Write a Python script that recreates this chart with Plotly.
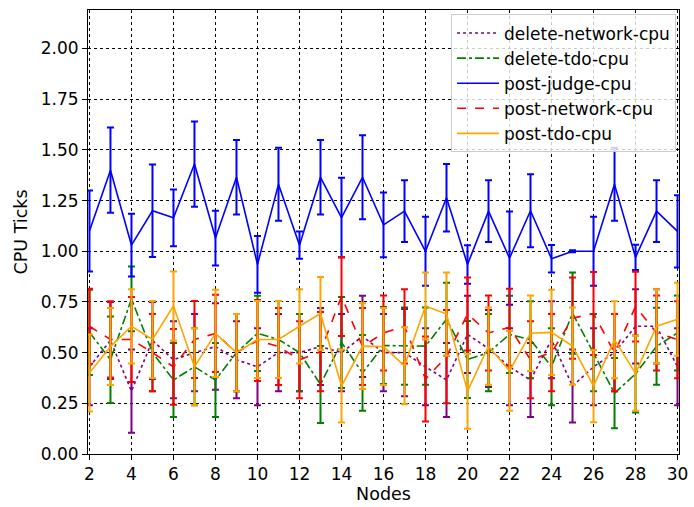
import plotly.graph_objects as go

# Cluster size (number of nodes) on the x axis
nodes = list(range(2, 31))

# Mean CPU ticks and the error (+/-) for each workload
delete_network_mean = [0.43, 0.56, 0.31, 0.56, 0.465, 0.50, 0.53, 0.465, 0.43, 0.50,
                       0.50, 0.53, 0.50, 0.58, 0.50, 0.50, 0.43, 0.365, 0.59, 0.52,
                       0.43, 0.365, 0.564, 0.335, 0.43, 0.50, 0.63, 0.63, 0.43]
delete_network_err = [0.19, 0.19, 0.205, 0.19, 0.19, 0.19, 0.213, 0.19, 0.19, 0.19,
                      0.19, 0.19, 0.19, 0.20, 0.19, 0.215, 0.19, 0.183, 0.19, 0.19,
                      0.19, 0.183, 0.19, 0.18, 0.19, 0.19, 0.183, 0.183, 0.19]

delete_tdo_mean = [0.60, 0.465, 0.765, 0.50, 0.365, 0.43, 0.365, 0.50, 0.595, 0.565,
                   0.50, 0.343, 0.55, 0.40, 0.535, 0.532, 0.532, 0.665, 0.466, 0.50,
                   0.59, 0.564, 0.43, 0.695, 0.50, 0.30, 0.395, 0.531, 0.597]
delete_tdo_err = [0.21, 0.213, 0.16, 0.19, 0.183, 0.19, 0.183, 0.19, 0.185, 0.19,
                  0.19, 0.19, 0.225, 0.187, 0.19, 0.19, 0.19, 0.18, 0.19, 0.19,
                  0.19, 0.19, 0.19, 0.20, 0.19, 0.173, 0.19, 0.19, 0.185]

post_judge_mean = [1.10, 1.40, 1.03, 1.20, 1.165, 1.43, 1.065, 1.365, 0.935, 1.33,
                   1.03, 1.365, 1.166, 1.365, 1.13, 1.198, 1.00, 1.264, 0.935, 1.198,
                   0.966, 1.20, 0.963, 1.00, 1.00, 1.33, 0.97, 1.198, 1.098]
post_judge_err = [0.20, 0.21, 0.155, 0.228, 0.14, 0.21, 0.135, 0.184, 0.14, 0.18,
                  0.067, 0.184, 0.197, 0.207, 0.16, 0.152, 0.17, 0.167, 0.095, 0.152,
                  0.23, 0.18, 0.068, 0.005, 0.17, 0.18, 0.062, 0.152, 0.178]

post_network_mean = [0.63, 0.565, 0.565, 0.50, 0.43, 0.565, 0.595, 0.50, 0.56, 0.53,
                     0.465, 0.505, 0.777, 0.53, 0.597, 0.63, 0.37, 0.48, 0.69, 0.597,
                     0.625, 0.465, 0.50, 0.67, 0.693, 0.50, 0.727, 0.597, 0.564]
post_network_err = [0.185, 0.188, 0.21, 0.19, 0.187, 0.19, 0.19, 0.19, 0.20, 0.19,
                    0.19, 0.195, 0.195, 0.19, 0.185, 0.183, 0.21, 0.23, 0.18, 0.185,
                    0.19, 0.19, 0.19, 0.20, 0.205, 0.19, 0.172, 0.185, 0.19]

post_tdo_mean = [0.40, 0.53, 0.63, 0.565, 0.73, 0.43, 0.595, 0.50, 0.565, 0.565,
                 0.63, 0.693, 0.335, 0.532, 0.53, 0.435, 0.73, 0.69, 0.31, 0.532,
                 0.41, 0.596, 0.60, 0.532, 0.335, 0.564, 0.398, 0.63, 0.665]
post_tdo_err = [0.19, 0.19, 0.183, 0.19, 0.17, 0.19, 0.215, 0.19, 0.19, 0.19,
                0.183, 0.18, 0.18, 0.212, 0.19, 0.19, 0.165, 0.205, 0.185, 0.19,
                0.197, 0.186, 0.21, 0.19, 0.178, 0.19, 0.185, 0.183, 0.18]

series = [
    ("delete-network-cpu", delete_network_mean, delete_network_err, "purple", "dot"),
    ("delete-tdo-cpu", delete_tdo_mean, delete_tdo_err, "green", "dashdot"),
    ("post-judge-cpu", post_judge_mean, post_judge_err, "blue", "solid"),
    ("post-network-cpu", post_network_mean, post_network_err, "red", "dash"),
    ("post-tdo-cpu", post_tdo_mean, post_tdo_err, "orange", "solid"),
]

fig = go.Figure()
for name, mean, err, color, dash in series:
    fig.add_trace(go.Scatter(
        x=nodes, y=mean, name=name, mode="lines",
        line=dict(color=color, width=1.6, dash=dash),
        error_y=dict(type="data", array=err, visible=True,
                     color=color, thickness=2, width=3.5),
    ))

tick_font = dict(family="DejaVu Sans", size=17, color="black")
title_font = dict(family="DejaVu Sans", size=17.5, color="black")
axis_common = dict(
    showline=True, mirror=True, linecolor="black", linewidth=1,
    ticks="outside", ticklen=5, tickcolor="black",
    showgrid=True, gridcolor="black", griddash="dot", gridwidth=1,
    zeroline=False, tickfont=tick_font, ticklabeloverflow="allow",
)

fig.update_layout(
    width=694, height=507,
    margin=dict(l=88, r=6, t=10, b=52),
    paper_bgcolor="white", plot_bgcolor="white",
    font=tick_font,
    showlegend=True,
    legend=dict(
        x=0.995, y=0.99, xanchor="right", yanchor="top",
        bgcolor="rgba(255,255,255,0.8)", bordercolor="#cccccc", borderwidth=1,
        font=dict(family="DejaVu Sans", size=17, color="black"),
        itemwidth=42,
    ),
)
fig.update_xaxes(
    range=[1.93, 30.07], tickmode="array", tickvals=list(range(2, 31, 2)),
    title=dict(text="Nodes", font=title_font, standoff=4), **axis_common,
)
fig.update_yaxes(
    range=[0, 2.19], tickmode="array",
    tickvals=[0, 0.25, 0.5, 0.75, 1.0, 1.25, 1.5, 1.75, 2.0],
    ticktext=["0.00", "0.25", "0.50", "0.75", "1.00", "1.25", "1.50", "1.75", "2.00"],
    title=dict(text="CPU Ticks", font=title_font, standoff=8), **axis_common,
)

fig.write_html("out.html")
